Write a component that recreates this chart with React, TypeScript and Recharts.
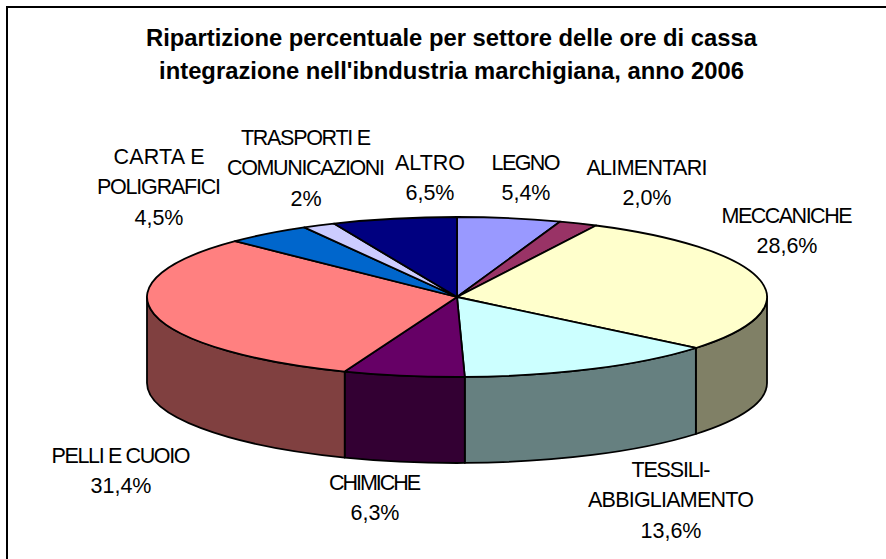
import React from 'react';
import { PieChart, Pie } from 'recharts';

const titleLines = [
  'Ripartizione percentuale per settore delle ore di cassa',
  "integrazione nell'ibndustria marchigiana, anno 2006",
];
const sectors = ['LEGNO', 'ALIMENTARI', 'MECCANICHE', 'TESSILI-\nABBIGLIAMENTO', 'CHIMICHE', 'PELLI E CUOIO', 'CARTA E\nPOLIGRAFICI', 'TRASPORTI E\nCOMUNICAZIONI', 'ALTRO'];
const shares = [5.4, 2.0, 28.6, 13.6, 6.3, 31.4, 4.5, 1.7, 6.5];
const shareLabels = ['5,4%', '2,0%', '28,6%', '13,6%', '6,3%', '31,4%', '4,5%', '2%', '6,5%'];
const topColors = ['#9999FF', '#993366', '#FFFFCC', '#CCFFFF', '#660066', '#FF8080', '#0066CC', '#CCCCFF', '#000080'];
const wallColors = ['#4D4D80', '#4D1A33', '#808066', '#668080', '#330033', '#804040', '#003366', '#666680', '#000040'];

const tableData = sectors.map((name, i) => ({ name, value: shares[i], fill: topColors[i], wall: wallColors[i], share: shareLabels[i] }));

// Layout of the drawing
const WIDTH = 886;
const HEIGHT = 559;
const CX = 457;
const CY = 297;
const RX = 310;
const RY = 80;
const DEPTH = 86;
const FONT = '"Liberation Sans", Arial, sans-serif';
// Centre x and first-line cap-centre y of each label, in sector order
const labelAnchors = [
  [526, 162], [647, 167], [787, 215], [671, 469], [375, 482], [121, 455], [159, 156], [306, 137], [430, 162],
];
const LABEL_STEP = 30.7;
// Rendered width of the label lines, which are set tighter than the font's natural width
const nameWidths: Record<string, number> = {
  LEGNO: 69, ALIMENTARI: 121, MECCANICHE: 131, 'TESSILI-': 79, ABBIGLIAMENTO: 166, CHIMICHE: 92,
  'PELLI E CUOIO': 139, 'CARTA E': 91, POLIGRAFICI: 124, 'TRASPORTI E': 130, COMUNICAZIONI: 158, ALTRO: 70,
};

const pt = (theta: number, dy = 0): [number, number] => {
  const r = (theta * Math.PI) / 180;
  return [CX + RX * Math.sin(r), CY - RY * Math.cos(r) + dy];
};
const f = (p: [number, number]) => `${p[0].toFixed(2)} ${p[1].toFixed(2)}`;

const SliceShape = (props: any) => {
  const t1 = 90 - props.startAngle;
  const t2 = 90 - props.endAngle;
  const large = t2 - t1 > 180 ? 1 : 0;
  const top = `M ${CX} ${CY} L ${f(pt(t1))} A ${RX} ${RY} 0 ${large} 1 ${f(pt(t2))} Z`;
  const w1 = Math.max(t1, 90);
  const w2 = Math.min(t2, 270);
  const entry = tableData[props.index] ?? props;
  const wall =
    w2 > w1
      ? `M ${f(pt(w1))} A ${RX} ${RY} 0 0 1 ${f(pt(w2))} L ${f(pt(w2, DEPTH))} A ${RX} ${RY} 0 0 0 ${f(pt(w1, DEPTH))} Z`
      : null;
  return (
    <g>
      {wall && <path d={wall} fill={entry.wall} stroke="#000" strokeWidth={1.8} strokeLinejoin="round" />}
      <path d={top} fill={entry.fill} stroke="#000" strokeWidth={1.8} strokeLinejoin="round" />
    </g>
  );
};

const renderLabel = (props: any) => {
  const i = props.index;
  const [x, y] = labelAnchors[i];
  const names = sectors[i].split('\n');
  const lines = [...names, shareLabels[i]];
  return (
    <g key={i}>
      {lines.map((l, k) => (
        <text
          key={k}
          x={x}
          y={y + 7.5 + k * LABEL_STEP}
          textAnchor="middle"
          fontFamily={FONT}
          fontSize={21.5}
          fill="#000"
          {...(nameWidths[l] ? { textLength: nameWidths[l], lengthAdjust: 'spacing' } : {})}
        >
          {l}
        </text>
      ))}
    </g>
  );
};

export default function App() {
  return (
    <div style={{ position: 'absolute', left: 0, top: 0, width: WIDTH, height: HEIGHT, overflow: 'hidden', background: '#fff' }}>
      <PieChart width={WIDTH} height={HEIGHT} margin={{ top: 0, right: 0, bottom: 0, left: 0 }}>
        <rect x={7} y={7} width={WIDTH + 20} height={HEIGHT + 20} fill="#fff" stroke="#000" strokeWidth={2} />
        {titleLines.map((l, i) => (
          <text key={i} x={451.5} y={46 + i * 32.5} textAnchor="middle" fontFamily={FONT} fontWeight="bold" fontSize={23.8} fill="#000">{l}</text>
        ))}
        <Pie
          data={tableData}
          dataKey="value"
          nameKey="name"
          cx={CX}
          cy={CY}
          outerRadius={RX}
          startAngle={90}
          endAngle={-270}
          stroke="#000"
          isAnimationActive={false}
          shape={SliceShape}
          label={renderLabel}
          labelLine={false}
        />
      </PieChart>
    </div>
  );
}
